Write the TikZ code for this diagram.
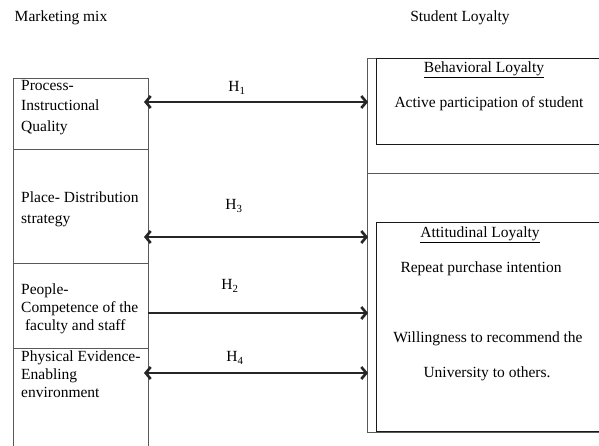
\documentclass[tikz,border=0pt]{standalone}
\usepackage{fontspec}
\setmainfont{Liberation Serif}
\usetikzlibrary{arrows.meta}

\tikzset{
	box/.style={draw=black!65, line width=0.8pt},
	inbox/.style={draw=black!90, line width=0.8pt},
	txt/.style={anchor=north west, inner sep=0pt, align=left,
		font=\fontsize{15.5}{20.5}\selectfont},
	ctxt/.style={anchor=center, inner sep=0pt,
		font=\fontsize{15.5}{18}\selectfont},
	hyp/.style={black!85, line width=2.6pt,
		arrows={Straight Barb[length=5pt,width=12pt]-Straight Barb[length=5pt,width=12pt]}},
	hyplbl/.style={anchor=center, inner sep=0pt,
		font=\fontsize{15.5}{18}\selectfont}
}

\begin{document}
\begin{tikzpicture}[
	x=1pt,
	y=-1pt] {

\useasboundingbox (0,0) rectangle (599,446);
\clip (0,0) rectangle (599,446);

% headings
\node[ctxt] (mixhead) at (61,18) {Marketing mix};
\node[ctxt] (loyhead) at (460,18) {Student Loyalty};

% left column (marketing mix)
\draw[box] (13,460) -- (13,78) -- (148,78) -- (148,460);
\draw[box] (13,149) -- (148,149);
\draw[box] (13,263) -- (148,263);
\draw[box] (13,348) -- (148,348);

\node[txt] (process) at (21,80) {Process-\\Instructional\\Quality};
\node[txt] (place) at (21,192) {Place- Distribution\\strategy};
\node[txt, font=\fontsize{15.5}{18}\selectfont] (people) at (21,284)
	{People-\\Competence of the\\\ faculty and staff};
\node[txt, font=\fontsize{15.5}{18}\selectfont] (physical) at (21,351)
	{Physical Evidence-\\Enabling\\environment};

% right column (student loyalty)
\draw[box] (367,432) rectangle (620,58);
\draw[box] (367,173) -- (620,173);
\draw[inbox] (376,58) rectangle (620,144);
\draw[inbox] (376,222) rectangle (620,431);

\node[ctxt] (behav) at (484,70) {\underline{Behavioral Loyalty}};
\node[ctxt] (active) at (489,104) {Active participation of student};
\node[ctxt] (attit) at (480,235) {\underline{Attitudinal Loyalty}};
\node[ctxt] (repeat) at (481,269) {Repeat purchase intention};
\node[ctxt] (willing) at (488,339) {Willingness to recommend the};
\node[ctxt] (univ) at (487,374) {University to others.};

% arrow ends
\coordinate (a1l) at (144,102);
\coordinate (a1r) at (368,102);
\coordinate (a3l) at (144,237);
\coordinate (a3r) at (368,237);
\coordinate (a2l) at (148,313);
\coordinate (a2r) at (368,313);
\coordinate (a4l) at (144,373);
\coordinate (a4r) at (368,373);

% hypotheses
\draw[hyp] (a1l) -- (a1r);
\draw[hyp] (a3l) -- (a3r);
\draw[hyp, arrows={-Straight Barb[length=5pt,width=12pt]}] (a2l) -- (a2r);
\draw[hyp] (a4l) -- (a4r);

\node[hyplbl] (h1) at (237,88) {H\textsubscript{1}};
\node[hyplbl] (h3) at (234,206) {H\textsubscript{3}};
\node[hyplbl] (h2) at (230,286) {H\textsubscript{2}};
\node[hyplbl] (h4) at (235,358) {H\textsubscript{4}};
}\end{tikzpicture}
\end{document}
